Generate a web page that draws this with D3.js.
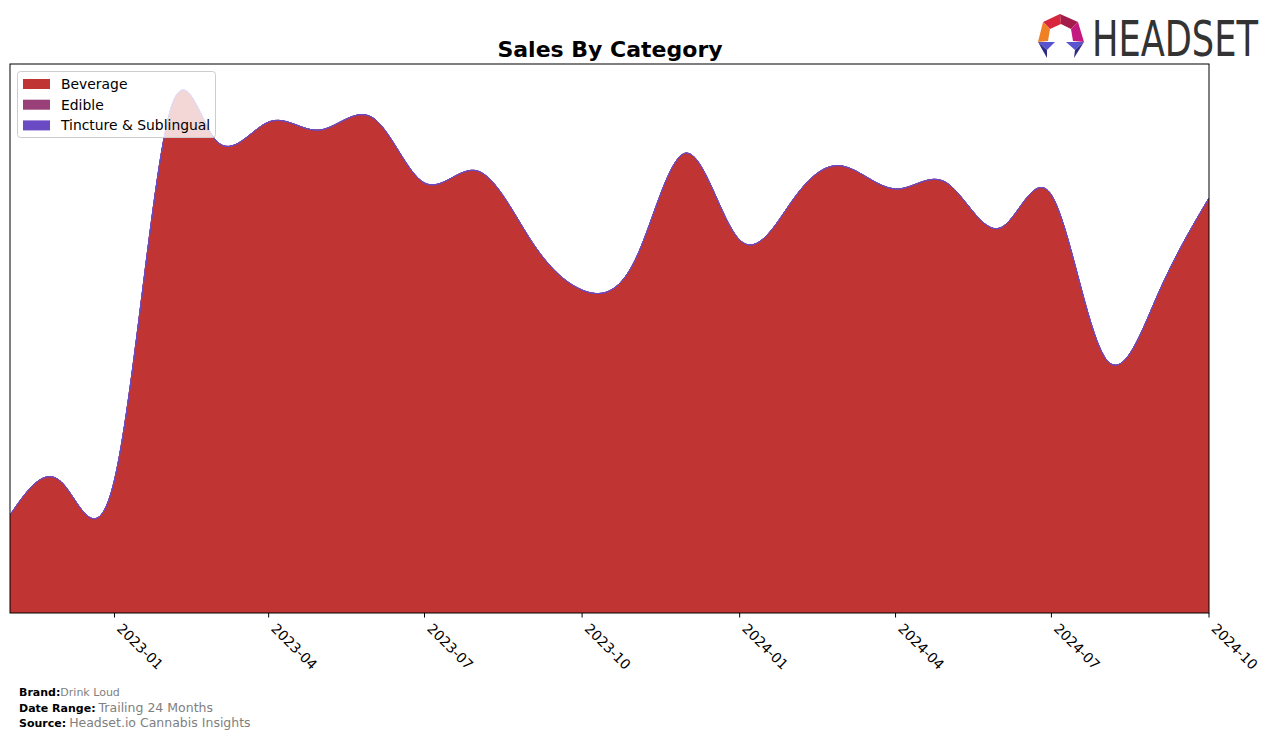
<!DOCTYPE html>
<html>
<head>
<meta charset="utf-8">
<script src="https://cdn.jsdelivr.net/npm/d3@7/dist/d3.min.js"></script>
<style>
  html, body { margin: 0; padding: 0; background: #ffffff; }
  svg { display: block; font-family: "DejaVu Sans", sans-serif; }
</style>
</head>
<body>
<svg id="chart" width="1276" height="739"></svg>
<script>
// ---- data ----
const months = ["2022-11","2022-12","2023-01","2023-02","2023-03","2023-04","2023-05","2023-06",
  "2023-07","2023-08","2023-09","2023-10","2023-11","2023-12","2024-01","2024-02",
  "2024-03","2024-04","2024-05","2024-06","2024-07","2024-08","2024-09","2024-10"];
const beverage = [98,131,133,492,473,491,483,495,430,442,373,323,353,460,373,413,447,424,430,385,418,256,318,415];
const edible   = [0,0,0,0,0,0,0,0,0,0,0,0,0,0,0,0,0,0,0,0,0,0,0,0];
const tincture = [0,0,0,0,0,0,0,0,0,0,0,0,0,0,0,0,0,0,0,0,0,0,0,0];
const categories = ["Beverage","Edible","Tincture & Sublingual"];
const colors = ["#c03434","#9a4078","#6a4bc4"];
const tickLabels = ["2023-01","2023-04","2023-07","2023-10","2024-01","2024-04","2024-07","2024-10"];
const yMax = 549;

const parse = d3.timeParse("%Y-%m");
const rows = months.map((m, i) => ({
  date: parse(m),
  "Beverage": beverage[i],
  "Edible": edible[i],
  "Tincture & Sublingual": tincture[i]
}));

const svg = d3.select("#chart");
const L = 10, R = 1209, T = 64, B = 613;

const x = d3.scaleTime().domain([parse(months[0]), parse(months[months.length-1])]).range([L, R]);
const y = d3.scaleLinear().domain([0, yMax]).range([B, T]);

const stack = d3.stack().keys(categories);
const layers = stack(rows);

const area = d3.area()
  .curve(d3.curveNatural)
  .x(d => x(d.data.date))
  .y0(d => y(d[0]))
  .y1(d => y(d[1]));

svg.append("defs").append("clipPath").attr("id", "clip")
  .append("rect").attr("x", L).attr("y", T).attr("width", R - L).attr("height", B - T);

const g = svg.append("g").attr("clip-path", "url(#clip)");
g.selectAll("path.layer").data(layers).enter().append("path")
  .attr("class", "layer")
  .attr("d", area)
  .attr("fill", (d, i) => colors[i])
  .attr("stroke", (d, i) => colors[i])
  .attr("stroke-width", 1);

// frame
svg.append("rect").attr("x", L).attr("y", T).attr("width", R - L).attr("height", B - T)
  .attr("fill", "none").attr("stroke", "#000").attr("stroke-width", 1);

// x axis ticks
const tickDates = tickLabels.map(parse);
const ax = svg.append("g");
tickDates.forEach((d, i) => {
  const tx = x(d);
  ax.append("line").attr("x1", tx).attr("x2", tx).attr("y1", B).attr("y2", B + 4.5)
    .attr("stroke", "#000").attr("stroke-width", 1);
  ax.append("text")
    .attr("transform", `translate(${tx + 9},${B + 9}) rotate(45)`)
    .attr("font-size", "13.9px")
    .attr("dy", "0.75em")
    .attr("fill", "#000")
    .text(tickLabels[i]);
});

// title
svg.append("text").attr("x", 610).attr("y", 57).attr("text-anchor", "middle")
  .attr("font-size", "22px").attr("font-weight", "bold").attr("fill", "#000")
  .text("Sales By Category");

// legend
const lg = svg.append("g");
lg.append("rect").attr("x", 17.5).attr("y", 71.5).attr("width", 198).attr("height", 66).attr("rx", 3)
  .attr("fill", "#ffffff").attr("fill-opacity", 0.8).attr("stroke", "#cccccc").attr("stroke-width", 1);
categories.forEach((c, i) => {
  const yy = 79 + i * 20.7;
  lg.append("rect").attr("x", 23).attr("y", yy).attr("width", 27).attr("height", 10).attr("fill", colors[i]);
  lg.append("text").attr("x", 61).attr("y", yy + 10).attr("font-size", "13.9px").attr("fill", "#000").text(c);
});

// footer
const foot = [
  ["Brand:", "Drink Loud", 696, 11],
  ["Date Range:", "Trailing 24 Months", 712, 12.5],
  ["Source:", "Headset.io Cannabis Insights", 727, 12.5]
];
foot.forEach(f => {
  const t = svg.append("text").attr("x", 19).attr("y", f[2]);
  t.append("tspan").attr("font-weight", "bold").attr("font-size", "11px").attr("fill", "#000").text(f[0]);
  t.append("tspan").attr("font-size", f[3] + "px").attr("fill", "#808080").attr("dx", f[3] > 11 ? 3 : 0).text(f[1]);
});

// logo
const logo = svg.append("g");
const polys = [
  [[1043,22],[1060,14],[1061,24],[1050,29], "#d9263f"],
  [[1060,14],[1078,22],[1071,29],[1061,24], "#a51c4b"],
  [[1043,22],[1050,29],[1048,41],[1038,42], "#f08024"],
  [[1078,22],[1084,42],[1073,41],[1071,29], "#c4197f"],
  [[1038,42],[1055,42],[1047,50], "#5a53d0"],
  [[1038,42],[1047,50],[1047,58], "#2f2c86"],
  [[1066,42],[1084,42],[1075,50], "#5a53d0"],
  [[1075,50],[1084,42],[1074,58], "#2f2c86"]
];
polys.forEach(p => {
  const col = p[p.length - 1];
  const pts = p.slice(0, -1).map(q => q.join(",")).join(" ");
  logo.append("polygon").attr("points", pts).attr("fill", col);
});
const logoText = logo.append("text").attr("x", 0).attr("y", 0)
  .attr("font-family", "'DejaVu Sans Condensed', 'DejaVu Sans', sans-serif")
  .attr("font-size", "50px").attr("fill", "#333333")
  .text("HEADSET");
const natW = logoText.node().getComputedTextLength() || 200;
logoText.attr("transform", `translate(1092,56) scale(${166 / natW},1)`);
</script>
</body>
</html>
